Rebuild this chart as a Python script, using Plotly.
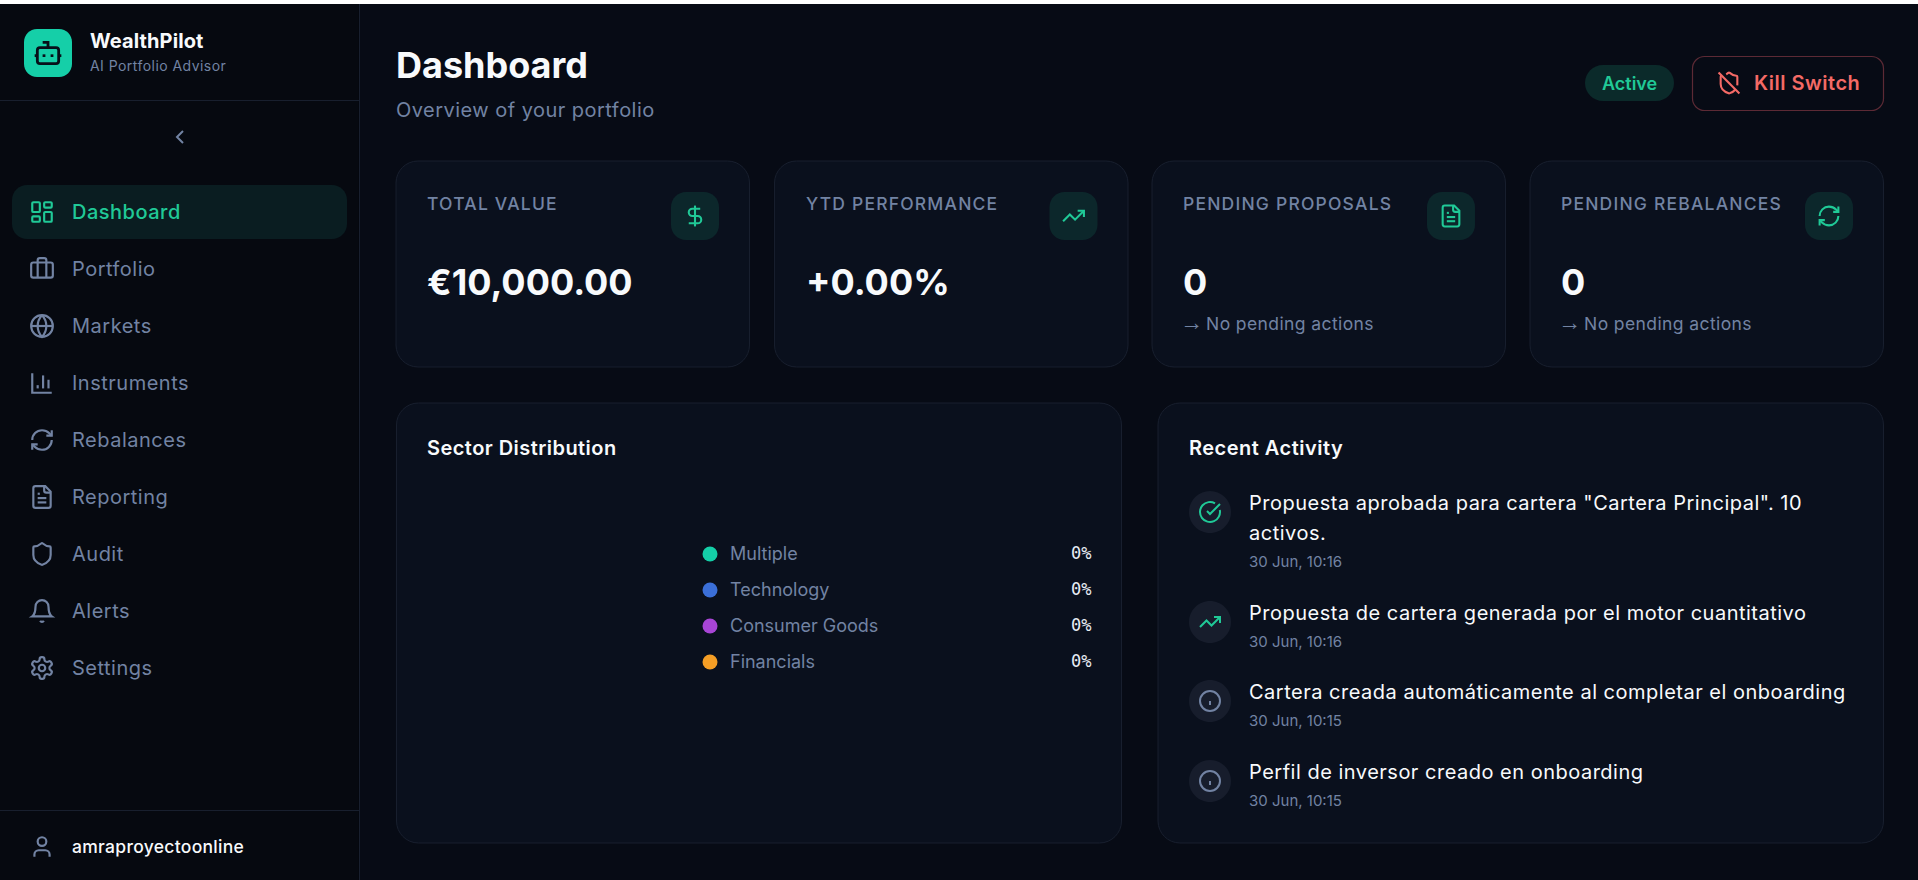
import json
import math
import re
import plotly.graph_objects as go

W, H = 1918, 880

# ---- data -------------------------------------------------------------
BRAND = "WealthPilot"
TAGLINE = "AI Portfolio Advisor"
NAV_ITEMS = ["Dashboard", "Portfolio", "Markets", "Instruments", "Rebalances",
             "Reporting", "Audit", "Alerts", "Settings"]
USER = "amraproyectoonline"
PAGE_TITLE = "Dashboard"
PAGE_SUB = "Overview of your portfolio"
STATUS = "Active"
KILL = "Kill Switch"
KPI_LABELS = ["TOTAL VALUE", "YTD PERFORMANCE", "PENDING PROPOSALS", "PENDING REBALANCES"]
KPI_VALUES = ["€10,000.00", "+0.00%", "0", "0"]
KPI_NOTES = ["", "", "No pending actions", "No pending actions"]
SECTORS = ["Multiple", "Technology", "Consumer Goods", "Financials"]
SECTOR_VALUES = [0, 0, 0, 0]
SECTOR_TITLE = "Sector Distribution"
ACTIVITY_TITLE = "Recent Activity"
ACTIVITY_TEXT = [
    ['Propuesta aprobada para cartera "Cartera Principal". 10', "activos."],
    ["Propuesta de cartera generada por el motor cuantitativo"],
    ["Cartera creada automáticamente al completar el onboarding"],
    ["Perfil de inversor creado en onboarding"],
]
ACTIVITY_TIMES = ["30 Jun, 10:16", "30 Jun, 10:16", "30 Jun, 10:15", "30 Jun, 10:15"]

# ---- palette ----------------------------------------------------------
SECTOR_COLORS = ["#14cfa8", "#3b6fd8", "#a845d6", "#f59e25"]
BG = "#070b15"
SIDE = "#060910"
CARD = "#0a101d"
EDGE = "#181f2e"
GREEN = "#20c997"
MUTED = "#7283a3"
WHITE = "#f8fafc"
RED = "#f46a66"
FONT = "Inter"


# ---- icon path helpers ------------------------------------------------
def arc_to_cubics(x1, y1, rx, ry, phi, fa, fs, x2, y2):
    if rx == 0 or ry == 0 or (x1 == x2 and y1 == y2):
        return [(x1, y1, x2, y2, x2, y2)]
    rx, ry = abs(rx), abs(ry)
    p = math.radians(phi)
    cp, sp = math.cos(p), math.sin(p)
    dx, dy = (x1 - x2) / 2, (y1 - y2) / 2
    xp, yp = cp * dx + sp * dy, -sp * dx + cp * dy
    lam = xp * xp / (rx * rx) + yp * yp / (ry * ry)
    if lam > 1:
        s = math.sqrt(lam)
        rx, ry = rx * s, ry * s
    num = rx * rx * ry * ry - rx * rx * yp * yp - ry * ry * xp * xp
    den = rx * rx * yp * yp + ry * ry * xp * xp
    co = math.sqrt(max(0, num / den))
    if fa == fs:
        co = -co
    cxp, cyp = co * rx * yp / ry, -co * ry * xp / rx
    cx = cp * cxp - sp * cyp + (x1 + x2) / 2
    cy = sp * cxp + cp * cyp + (y1 + y2) / 2
    t1 = math.atan2((yp - cyp) / ry, (xp - cxp) / rx)
    t2 = math.atan2((-yp - cyp) / ry, (-xp - cxp) / rx)
    dt = t2 - t1
    if fs and dt < 0:
        dt += 2 * math.pi
    if not fs and dt > 0:
        dt -= 2 * math.pi
    n = max(1, math.ceil(abs(dt) / (math.pi / 2) - 1e-9))
    out = []
    for i in range(n):
        a = t1 + dt * i / n
        b = t1 + dt * (i + 1) / n
        k = 4 / 3 * math.tan((b - a) / 4)
        def pt(u, v):
            return (cp * rx * u - sp * ry * v + cx, sp * rx * u + cp * ry * v + cy)
        c1 = pt(math.cos(a) - k * math.sin(a), math.sin(a) + k * math.cos(a))
        c2 = pt(math.cos(b) + k * math.sin(b), math.sin(b) - k * math.cos(b))
        e = pt(math.cos(b), math.sin(b))
        out.append((*c1, *c2, *e))
    return out


def parse_path(d):
    toks = re.findall(r"[MmLlHhVvCcAaZz]|-?\d*\.?\d+", d)
    i, x, y, sx, sy, cmd = 0, 0.0, 0.0, 0.0, 0.0, None
    segs = []
    while i < len(toks):
        if re.match(r"[A-Za-z]", toks[i]):
            cmd = toks[i]
            i += 1
            if cmd in "Zz":
                segs.append(("Z",))
                x, y = sx, sy
                continue
        rel = cmd.islower()
        c = cmd.upper()
        n = {"M": 2, "L": 2, "H": 1, "V": 1, "C": 6, "A": 7}[c]
        v = [float(t) for t in toks[i:i + n]]
        i += n
        if c in "ML":
            nx, ny = (x + v[0], y + v[1]) if rel else (v[0], v[1])
            segs.append((c, nx, ny))
            x, y = nx, ny
            if c == "M":
                sx, sy = x, y
                cmd = "l" if rel else "L"
        elif c == "H":
            x = x + v[0] if rel else v[0]
            segs.append(("L", x, y))
        elif c == "V":
            y = y + v[0] if rel else v[0]
            segs.append(("L", x, y))
        elif c == "C":
            pts = [(v[j] + x if rel else v[j]) if j % 2 == 0 else (v[j] + y if rel else v[j]) for j in range(6)]
            segs.append(("C", *pts))
            x, y = pts[4], pts[5]
        elif c == "A":
            ex, ey = (x + v[5], y + v[6]) if rel else (v[5], v[6])
            for cub in arc_to_cubics(x, y, v[0], v[1], v[2], int(v[3]), int(v[4]), ex, ey):
                segs.append(("C", *cub))
            x, y = ex, ey
    return segs


def to_paper(segs, fx):
    parts = []
    for s in segs:
        if s[0] == "Z":
            parts.append("Z")
        else:
            coords = []
            for j in range(1, len(s), 2):
                px, py = fx(s[j], s[j + 1])
                coords.append(f"{px / W:.6f},{1 - py / H:.6f}")
            parts.append(s[0] + " ".join(coords))
    return " ".join(parts)


shapes = []
annotations = []
spacing = []


def add_path(d, fx, color=None, fill=None, width=1.0):
    shapes.append(dict(type="path", xref="paper", yref="paper", layer="below",
                       path=to_paper(parse_path(d), fx),
                       line=dict(color=color or "rgba(0,0,0,0)", width=width if color else 0),
                       fillcolor=fill or "rgba(0,0,0,0)"))


def rr_d(x0, y0, x1, y1, r):
    return (f"M{x0 + r} {y0} L{x1 - r} {y0} A{r} {r} 0 0 1 {x1} {y0 + r} L{x1} {y1 - r} "
            f"A{r} {r} 0 0 1 {x1 - r} {y1} L{x0 + r} {y1} A{r} {r} 0 0 1 {x0} {y1 - r} "
            f"L{x0} {y0 + r} A{r} {r} 0 0 1 {x0 + r} {y0} Z")


def box(x0, y0, x1, y1, r=0, fill=None, edge=None, width=1.0):
    add_path(rr_d(x0, y0, x1, y1, r) if r else f"M{x0} {y0} L{x1} {y0} L{x1} {y1} L{x0} {y1} Z",
             lambda a, b: (a, b), color=edge, fill=fill, width=width)


def circ_d(cx, cy, r):
    return f"M{cx - r} {cy} A{r} {r} 0 1 0 {cx + r} {cy} A{r} {r} 0 1 0 {cx - r} {cy} Z"


ICONS = {
    "dashboard": [rr_d(3, 3, 10, 12, 1), rr_d(14, 3, 21, 8, 1), rr_d(14, 12, 21, 21, 1), rr_d(3, 16, 10, 21, 1)],
    "briefcase": ["M16 20V4a2 2 0 0 0-2-2h-4a2 2 0 0 0-2 2v16", rr_d(2, 6, 22, 20, 2)],
    "globe": [circ_d(12, 12, 10), "M12 2a14.5 14.5 0 0 0 0 20 14.5 14.5 0 0 0 0-20", "M2 12h20"],
    "chart": ["M3 3v18h18", "M18 17V9", "M13 17V5", "M8 17v-3"],
    "refresh": ["M3 12a9 9 0 0 1 9-9 9.75 9.75 0 0 1 6.74 2.74L21 8", "M21 3v5h-5",
                "M21 12a9 9 0 0 1-9 9 9.75 9.75 0 0 1-6.74-2.74L3 16", "M8 16H3v5"],
    "file": ["M15 2H6a2 2 0 0 0-2 2v16a2 2 0 0 0 2 2h12a2 2 0 0 0 2-2V7Z", "M14 2v4a2 2 0 0 0 2 2h4",
             "M10 9H8", "M16 13H8", "M16 17H8"],
    "shield": ["M20 13c0 5-3.5 7.5-7.66 8.95a1 1 0 0 1-.67-.01C7.5 20.5 4 18 4 13V6a1 1 0 0 1 1-1c2 0 4.5-1.2 6.24-2.72a1.17 1.17 0 0 1 1.52 0C14.51 3.81 17 5 19 5a1 1 0 0 1 1 1z"],
    "bell": ["M6 8a6 6 0 0 1 12 0c0 7 3 9 3 9H3c0 0 3-2 3-9", "M10.3 21a1.94 1.94 0 0 0 3.4 0"],
    "gear": ["M12.22 2h-.44a2 2 0 0 0-2 2v.18a2 2 0 0 1-1 1.73l-.43.25a2 2 0 0 1-2 0l-.15-.08a2 2 0 0 0-2.73.73l-.22.38a2 2 0 0 0 .73 2.73l.15.1a2 2 0 0 1 1 1.72v.51a2 2 0 0 1-1 1.74l-.15.09a2 2 0 0 0-.73 2.73l.22.38a2 2 0 0 0 2.73.73l.15-.08a2 2 0 0 1 2 0l.43.25a2 2 0 0 1 1 1.73V20a2 2 0 0 0 2 2h.44a2 2 0 0 0 2-2v-.18a2 2 0 0 1 1-1.73l.43-.25a2 2 0 0 1 2 0l.15.08a2 2 0 0 0 2.73-.73l.22-.39a2 2 0 0 0-.73-2.73l-.15-.08a2 2 0 0 1-1-1.74v-.5a2 2 0 0 1 1-1.74l.15-.09a2 2 0 0 0 .73-2.73l-.22-.38a2 2 0 0 0-2.73-.73l-.15.08a2 2 0 0 1-2 0l-.43-.25a2 2 0 0 1-1-1.73V4a2 2 0 0 0-2-2z",
             circ_d(12, 12, 3)],
    "user": ["M19 21v-2a4 4 0 0 0-4-4H9a4 4 0 0 0-4 4v2", circ_d(12, 7, 4)],
    "bot": ["M12 8V4H8", rr_d(4, 8, 20, 20, 2), "M2 14h2", "M20 14h2", "M15 13v2", "M9 13v2"],
    "chevron": ["M15 18L9 12L15 6"],
    "dollar": ["M12 2V22", "M17 5H9.5a3.5 3.5 0 0 0 0 7h5a3.5 3.5 0 0 1 0 7H6"],
    "trend": ["M22 7L13.5 15.5L8.5 10.5L2 17", "M16 7h6v6"],
    "shield_off": ["M2 2L22 22", "M5 5a1 1 0 0 0-1 1v7c0 5 3.5 7.5 7.67 8.94a1 1 0 0 0 .67.01c2.35-.82 4.48-1.97 5.9-3.71",
                   "M9.309 3.652A12.252 12.252 0 0 0 11.24 2.28a1.17 1.17 0 0 1 1.52 0C14.51 3.81 17 5 19 5a1 1 0 0 1 1 1v7a9.784 9.784 0 0 1-.08 1.264"],
    "check": ["M21.801 10A10 10 0 1 1 17 3.335", "M9 11l3 3L22 4"],
    "info": [circ_d(12, 12, 10), "M12 16v-4", "M12 8h.01"],
}


def icon(name, cx, cy, size, color, sw=2.0):
    k = size / 24
    fx = lambda a, b: (cx + (a - 12) * k, cy + (b - 12) * k)
    for d in ICONS[name]:
        add_path(d, fx, color=color, width=sw * k)


def text(x, y, s, size, color, weight=400, anchor="left", family=FONT, ls=0):
    annotations.append(dict(
        x=x / W, y=1 - y / H, xref="paper", yref="paper", text=s, showarrow=False,
        xanchor=anchor, yanchor="middle", align=anchor, borderpad=0, borderwidth=0,
        font=dict(family=family, size=size, color=color, weight=weight)))
    spacing.append(ls)


# ---- page frame -------------------------------------------------------
box(0, 0, 359, H, fill=SIDE)
box(359, 4, 360, H, fill=EDGE)
box(0, 100, 359, 101, fill=EDGE)
box(0, 810, 359, 811, fill=EDGE)
box(0, 0, W, 4, fill="#ffffff")

# sidebar
box(24, 29, 72, 77, r=13, fill="#15cfa8")
icon("bot", 48, 53, 32, "#07101a", 2.1)
text(90, 41, BRAND, 20, WHITE, 700, ls=0.1)
text(90, 66, TAGLINE, 14, MUTED, 400, ls=0.45)
icon("chevron", 180, 137, 24, MUTED, 2)
box(12, 185, 347, 239, r=15, fill="#0a1d21")

NAV_ICONS = ["dashboard", "briefcase", "globe", "chart", "refresh", "file", "shield", "bell", "gear"]
for i, (label, ic) in enumerate(zip(NAV_ITEMS, NAV_ICONS)):
    y = 212 + 57 * i
    col = GREEN if i == 0 else MUTED
    icon(ic, 42, y, 26, col, 2)
    text(72, y, label, 20, col, 500 if i == 0 else 400, ls=0.5)
icon("user", 42, 847, 26, MUTED, 2)
text(72, 846, USER, 17.5, WHITE, 500, ls=0.3)

# header
text(396, 65, PAGE_TITLE, 36, WHITE, 700)
text(396, 110, PAGE_SUB, 20, MUTED, 400, ls=0.47)
box(1585, 65, 1674, 101, r=18, fill="#0b2a2a")
text(1629, 83, STATUS, 18, GREEN, 600, anchor="center")
box(1692.5, 56.5, 1883.5, 110.5, r=12, edge="#5c2a35", width=1.2)
icon("shield_off", 1729, 83, 25, RED, 2)
text(1754, 83, KILL, 20, RED, 600, ls=0.5)

# KPI cards
CARD_X = [396, 774.5, 1152, 1530]
KPI_ICONS = ["dollar", "trend", "file", "refresh"]
for x0, lab, val, note, ic in zip(CARD_X, KPI_LABELS, KPI_VALUES, KPI_NOTES, KPI_ICONS):
    box(x0, 161, x0 + 353.5, 367, r=22, fill=CARD, edge=EDGE)
    text(x0 + 31, 203, lab, 17.5, MUTED, 500, ls=1.2)
    box(x0 + 275, 192, x0 + 323, 240, r=15, fill="#0c272b")
    icon(ic, x0 + 299, 216, 25, GREEN, 2)
    text(x0 + 31, 282, val, 36, WHITE, 700)
    if note:
        text(x0 + 28, 322, '<span style="font-family:Liberation Sans;font-size:23px">→</span>'
             '<span style="font-size:8px"> </span>' + note,
             17.5, MUTED, 400, ls=0.4)

# lower panels
box(396.5, 403, 1121.5, 843, r=22, fill=CARD, edge=EDGE)
box(1158, 403, 1883.5, 843, r=22, fill=CARD, edge=EDGE)
text(427, 448, SECTOR_TITLE, 20, WHITE, 600, ls=0.45)
text(1189, 448, ACTIVITY_TITLE, 20, WHITE, 600, ls=0.49)

LEG_Y = [554, 590, 626, 662]
for y, name, v in zip(LEG_Y, SECTORS, SECTOR_VALUES):
    text(730, y - 1, name, 18, MUTED, 400)
    text(1091, y - 1, f"{v}%", 17, "#e8edf5", 400, anchor="right", family="DejaVu Sans Mono")

ROW_ICON_Y = [512, 622, 701, 781]
ROW_TEXT_Y = [503, 613, 692, 772]
ROW_TIME_Y = [561, 641, 720, 800]
ROW_ICONS = [("check", GREEN), ("trend", GREEN), ("info", MUTED), ("info", MUTED)]
for lines, t, iy, ty, dy, (ic, col) in zip(ACTIVITY_TEXT, ACTIVITY_TIMES, ROW_ICON_Y, ROW_TEXT_Y, ROW_TIME_Y, ROW_ICONS):
    box(1189, iy - 21, 1231, iy + 21, r=21, fill="#171d2c")
    icon(ic, 1210, iy, 24, col, 2)
    for j, line in enumerate(lines):
        text(1249, ty + 30 * j, line, 20, WHITE, 400, ls=0.5)
    text(1249, dy, t, 15, MUTED, 400)

# ---- traces -----------------------------------------------------------
fig = go.Figure()
# the donut holds only zero shares, so it draws no slices, as in the dashboard
fig.add_trace(go.Pie(labels=SECTORS, values=SECTOR_VALUES, hole=0.6, sort=False,
                     marker=dict(colors=SECTOR_COLORS), textinfo="none", showlegend=False,
                     domain=dict(x=[427 / W, 690 / W], y=[1 - 760 / H, 1 - 490 / H])))
# legend dots: each sits at its share on a hidden value axis, one row per category
fig.add_trace(go.Scatter(x=SECTOR_VALUES, y=SECTORS, mode="markers", showlegend=False,
                         marker=dict(color=SECTOR_COLORS, size=15, line=dict(width=0)),
                         xaxis="x", yaxis="y", hoverinfo="skip"))

fig.update_layout(
    width=W, height=H, margin=dict(l=0, r=0, t=0, b=0, pad=0),
    paper_bgcolor=BG, plot_bgcolor="rgba(0,0,0,0)", showlegend=False,
    font=dict(family=FONT, color=MUTED),
    xaxis=dict(domain=[700 / W, 720 / W], range=[-1, 1], visible=False, fixedrange=True),
    yaxis=dict(domain=[1 - 680 / H, 1 - 536 / H], type="category", categoryorder="array",
               categoryarray=SECTORS, range=[3.5, -0.5], visible=False, fixedrange=True),
    shapes=shapes, annotations=annotations,
)

POST = """
document.documentElement.style.margin='0';
document.body.style.margin='0';
document.body.style.overflow='hidden';
document.body.style.background='%s';
var LS = %s;
document.querySelectorAll('.annotation-text').forEach(function(t, i) {
  if (LS[i]) { t.style.letterSpacing = LS[i] + 'px'; }
});
""" % (BG, json.dumps(spacing))

fig.write_html("out.html", post_script=POST, config=dict(displayModeBar=False, responsive=False))
